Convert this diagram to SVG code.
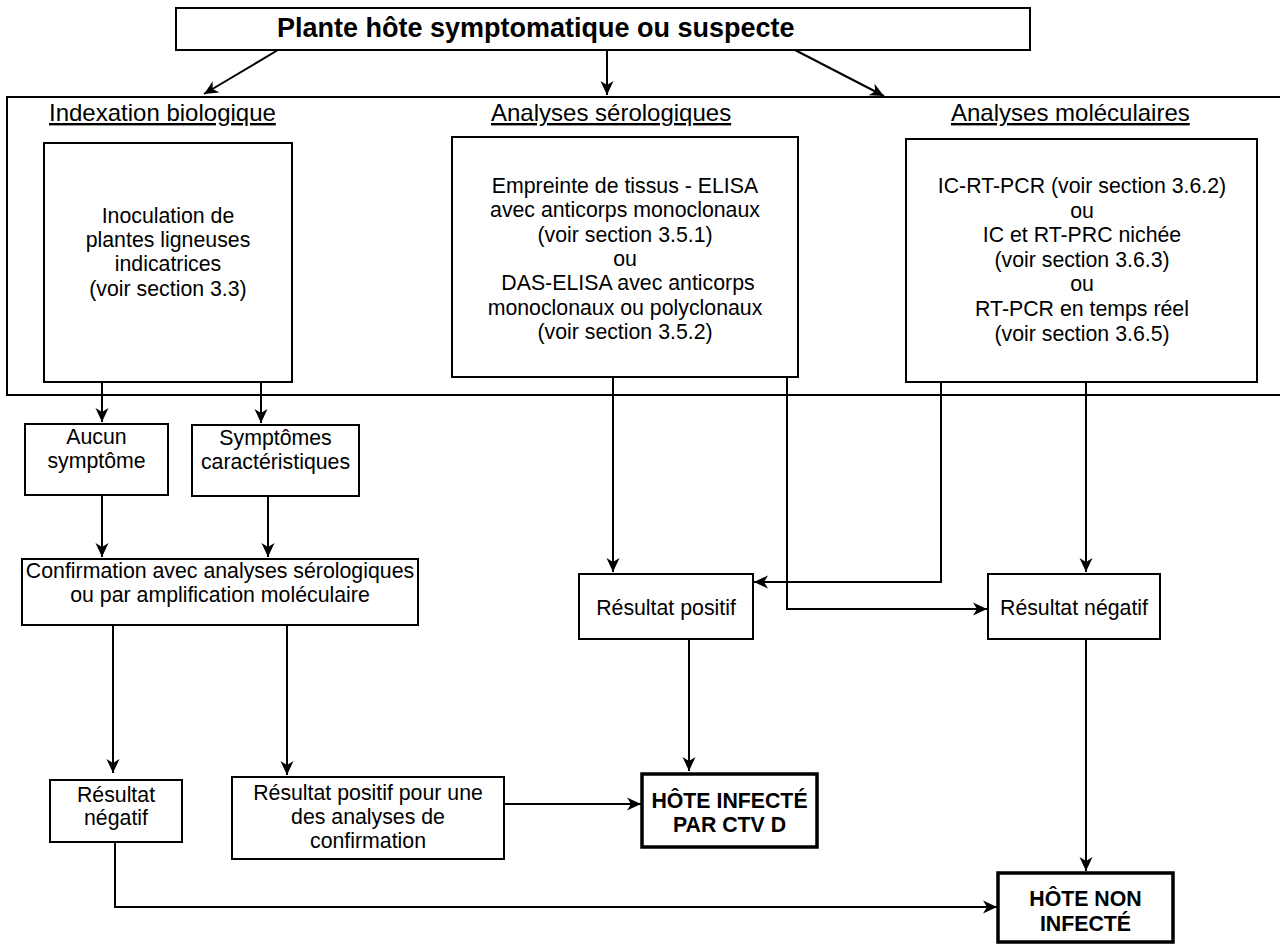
<svg xmlns="http://www.w3.org/2000/svg" width="1280" height="945" viewBox="0 0 1280 945">
<defs>
<style>
text{font-family:"Liberation Sans",Arial,sans-serif;fill:#000}
.b{fill:#fff;stroke:#000;stroke-width:2}
.t{fill:#fff;stroke:#000;stroke-width:3.5}
.c{font-size:21.3px;text-anchor:middle}
.h{font-size:24px;text-decoration:underline}
.k{font-size:21.3px;font-weight:bold;text-anchor:middle}
.e{fill:none;stroke:#000;stroke-width:2;marker-end:url(#a)}
</style>
<marker id="a" markerUnits="userSpaceOnUse" markerWidth="15" markerHeight="14" refX="14" refY="7" orient="auto">
<path d="M0,0.5 L14,7 L0,13.5 L4,7 z" fill="#000"/>
</marker>
</defs>
<rect width="1280" height="945" fill="#fff"/>
<g id="container">
<rect x="7" y="97" width="1290" height="298" fill="none" stroke="#000" stroke-width="2"/>
<text class="h" x="49" y="121">Indexation biologique</text>
<text class="h" x="491" y="121">Analyses sérologiques</text>
<text class="h" x="951" y="121">Analyses moléculaires</text>
</g>
<g id="connectors">
<path class="e" d="M278,50 L204,94"/>
<path class="e" d="M607,50 V95"/>
<path class="e" d="M795,50 L884,96"/>
<path class="e" d="M102,382 V422"/>
<path class="e" d="M261,382 V423"/>
<path class="e" d="M102,495 V557"/>
<path class="e" d="M268,496 V557"/>
<path class="e" d="M113,625 V773"/>
<path class="e" d="M287,625 V775"/>
<path class="e" d="M115,842 V907 H997"/>
<path class="e" d="M504,804 H641"/>
<path class="e" d="M613,377 V572"/>
<path class="e" d="M787,377 V609 H987"/>
<path class="e" d="M941,382 V582 H754"/>
<path class="e" d="M1086,382 V572"/>
<path class="e" d="M689,639 V771"/>
<path class="e" d="M1086,639 V871"/>
</g>
<g id="title">
<rect class="b" x="176" y="8" width="854" height="42"/>
<text x="277" y="37" style="font-size:27px;font-weight:bold">Plante hôte symptomatique ou suspecte</text>
</g>
<g id="inoculation">
<rect class="b" x="44" y="143" width="248" height="239"/>
<text class="c" x="168"><tspan x="168" y="223">Inoculation de</tspan><tspan x="168" y="247.2">plantes ligneuses</tspan><tspan x="168" y="271.4">indicatrices</tspan><tspan x="168" y="295.6">(voir section 3.3)</tspan></text>
</g>
<g id="serologiques">
<rect class="b" x="452" y="137" width="346" height="240"/>
<text class="c" x="625"><tspan x="625" y="193">Empreinte de tissus - ELISA</tspan><tspan x="625" y="217.3">avec anticorps monoclonaux</tspan><tspan x="625" y="241.6">(voir section 3.5.1)</tspan><tspan x="625" y="265.9">ou</tspan><tspan x="628" y="290.2">DAS-ELISA avec anticorps</tspan><tspan x="625" y="314.5">monoclonaux ou polyclonaux</tspan><tspan x="625" y="338.8">(voir section 3.5.2)</tspan></text>
</g>
<g id="moleculaires">
<rect class="b" x="906" y="139" width="351" height="243"/>
<text class="c" x="1082"><tspan x="1082" y="193">IC-RT-PCR (voir section 3.6.2)</tspan><tspan x="1082" y="217.6">ou</tspan><tspan x="1082" y="242.2">IC et RT-PRC nichée</tspan><tspan x="1082" y="266.8">(voir section 3.6.3)</tspan><tspan x="1082" y="291.4">ou</tspan><tspan x="1082" y="316">RT-PCR en temps réel</tspan><tspan x="1082" y="340.6">(voir section 3.6.5)</tspan></text>
</g>
<g id="aucun">
<rect class="b" x="25" y="424" width="143" height="71"/>
<text class="c"><tspan x="96.5" y="444">Aucun</tspan><tspan x="96.5" y="468">symptôme</tspan></text>
</g>
<g id="symptomes">
<rect class="b" x="192" y="425" width="167" height="71"/>
<text class="c"><tspan x="275.5" y="445">Symptômes</tspan><tspan x="275.5" y="469">caractéristiques</tspan></text>
</g>
<g id="confirmation">
<rect class="b" x="22" y="559" width="396" height="66"/>
<text class="c"><tspan x="220" y="578">Confirmation avec analyses sérologiques</tspan><tspan x="220" y="602">ou par amplification moléculaire</tspan></text>
</g>
<g id="positif">
<rect class="b" x="579" y="574" width="174" height="65"/>
<text class="c" x="666" y="615">Résultat positif</text>
</g>
<g id="negatif-droite">
<rect class="b" x="988" y="574" width="172" height="65"/>
<text class="c" x="1074" y="615">Résultat négatif</text>
</g>
<g id="negatif-gauche">
<rect class="b" x="50" y="780" width="132" height="62"/>
<text class="c"><tspan x="116" y="802">Résultat</tspan><tspan x="116" y="825">négatif</tspan></text>
</g>
<g id="positif-confirmation">
<rect class="b" x="232" y="777" width="272" height="82"/>
<text class="c"><tspan x="368" y="800">Résultat positif pour une</tspan><tspan x="368" y="824">des analyses de</tspan><tspan x="368" y="848">confirmation</tspan></text>
</g>
<g id="infecte">
<rect class="t" x="642" y="774" width="175" height="73"/>
<text class="k"><tspan x="729.5" y="808">HÔTE INFECTÉ</tspan><tspan x="729.5" y="832">PAR CTV D</tspan></text>
</g>
<g id="non-infecte">
<rect class="t" x="998" y="873" width="175" height="69"/>
<text class="k"><tspan x="1085.5" y="906">HÔTE NON</tspan><tspan x="1085.5" y="931">INFECTÉ</tspan></text>
</g>
</svg>
